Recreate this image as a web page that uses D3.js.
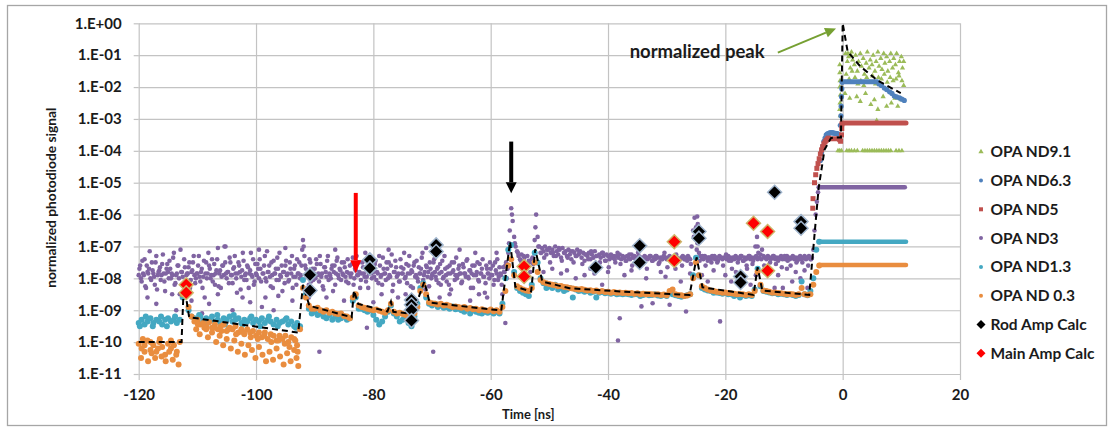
<!DOCTYPE html>
<html>
<head>
<meta charset="utf-8">
<script src="https://cdn.jsdelivr.net/npm/d3@7"></script>
<style>
  body { margin: 0; background: #fff; }
  svg { display: block; }
  text { font-family: Lato, "Open Sans", sans-serif; font-weight: 700; fill: #1b1b1b; }
</style>
</head>
<body>
<svg id="chart" width="1109" height="427"></svg>
<script>
// ---------------------------------------------------------------------------
// Axis ticks
const xTicks = [-120, -100, -80, -60, -40, -20, 0, 20];
const yTickExp = [0, -1, -2, -3, -4, -5, -6, -7, -8, -9, -10, -11];
const yTickLabels = ["1.E+00","1.E-01","1.E-02","1.E-03","1.E-04","1.E-05","1.E-06","1.E-07","1.E-08","1.E-09","1.E-10","1.E-11"];

// Series names / colours (legend order)
const seriesNames = ["OPA ND9.1","OPA ND6.3","OPA ND5","OPA ND3","OPA ND1.3","OPA ND 0.3","Rod Amp Calc","Main Amp Calc"];
const seriesColors = ["#9BBB59","#4F81BD","#C0504D","#8064A2","#44A8C2","#E98D3F","#000000","#FF0000"];

// All signal values are log10(normalized signal).

// OPA ND 0.3 trace, sampled every 0.5 ns from -120 ns (one row = 5 ns)
const nd03Start = -120, nd03Step = 0.5;
const nd03Log = [
  -10.05,-10.2,-10.1,-9.95,-10.25,-10.1,-10.3,-10.0,-10.15,-10.4,
  -10.05,-10.2,-10.1,-10.3,-10.0,-8.5,-8.3,-8.9,-9.2,-9.35,
  -9.3,-9.45,-9.4,-9.5,-9.38,-9.55,-9.45,-9.6,-9.5,-9.45,
  -9.65,-9.55,-9.6,-9.5,-9.7,-9.6,-9.75,-9.6,-9.7,-9.65,
  -9.8,-9.7,-9.85,-9.7,-9.9,-9.75,-9.8,-9.95,-9.8,-9.9,
  -9.8,-10.0,-9.85,-9.9,-10.1,-9.6,-8.3,-8.6,-8.85,-8.95,
  -8.95,-8.92,-9.0,-9.05,-9.0,-9.08,-9.05,-9.1,-9.12,-9.1,
  -9.18,-9.2,-9.25,-8.6,-8.5,-8.85,-8.9,-8.92,-8.95,-8.98,
  -9.0,-8.98,-9.02,-9.05,-9.08,-9.0,-8.8,-9.05,-9.1,-9.08,
  -9.12,-9.15,-9.2,-9.15,-9.1,-8.9,-8.4,-8.2,-8.5,-8.75,
  -8.78,-8.8,-8.82,-8.8,-8.85,-8.83,-8.86,-8.9,-8.88,-8.9,
  -8.92,-8.9,-8.95,-8.93,-8.97,-8.95,-9.0,-8.97,-9.0,-9.02,
  -8.98,-9.03,-9.0,-9.05,-8.9,-8.4,-7.6,-7.4,-7.9,-8.25,
  -8.3,-8.35,-8.38,-8.4,-8.3,-7.5,-7.8,-8.05,-8.12,-8.15,
  -8.18,-8.2,-8.22,-8.25,-8.24,-8.27,-8.28,-8.3,-8.32,-8.33,
  -8.35,-8.33,-8.36,-8.38,-8.37,-8.4,-8.38,-8.42,-8.4,-8.43,
  -8.42,-8.45,-8.43,-8.45,-8.44,-8.46,-8.45,-8.47,-8.46,-8.48,
  -8.47,-8.5,-8.48,-8.5,-8.49,-8.5,-8.51,-8.5,-8.52,-8.51,
  -8.53,-8.4,-8.35,-8.5,-8.52,-8.53,-8.55,-8.54,-8.5,-8.0,
  -7.5,-7.9,-8.25,-8.3,-8.35,-8.38,-8.4,-8.42,-8.43,-8.45,
  -8.44,-8.46,-8.47,-8.48,-8.5,-8.49,-8.5,-8.52,-8.5,-8.52,
  -8.4,-7.8,-8.2,-8.38,-8.4,-8.42,-8.45,-8.44,-8.46,-8.47,
  -8.48,-8.5,-8.49,-8.5,-8.52,-8.5,-8.3,-8.5,-8.52,-8.5,
  -8.2,-7.8,-7.6
];
// extra ND 0.3 samples in the noisy early window: [time ns, log10]
const nd03Extra = [
  [-119.6,-10.5],[-119,-10.3],[-118.4,-10.6],[-117.8,-10.35],[-117.2,-10.5],[-116.7,-10.2],[-116.1,-10.45],
  [-115.4,-10.6],[-114.8,-10.3],[-114.2,-10.55],[-113.6,-10.4],[-113.2,-10.7],[-119.3,-9.9],[-118,-10.0],
  [-116.4,-9.9],[-114.5,-9.95],
  [-110.2,-9.6],[-109.6,-9.75],[-108.8,-9.55],[-108.2,-9.85],[-107.5,-9.7],[-106.8,-10.0],[-106.2,-9.8],
  [-105.6,-10.1],[-105,-9.9],[-104.3,-10.2],[-103.7,-9.95],[-103.1,-10.3],[-102.5,-10.05],[-101.9,-10.4],
  [-101.3,-10.1],[-100.7,-10.25],[-100.1,-10.5],[-99.5,-10.15],[-98.9,-10.4],[-98.3,-10.6],[-97.7,-10.3],
  [-97.1,-10.55],[-96.5,-10.2],[-95.9,-10.45],[-95.3,-10.7],[-94.7,-10.35],[-94.1,-10.6],[-93.5,-10.25],
  [-93.1,-10.5],[-92.8,-10.75],
  [-109.9,-9.45],[-108.5,-9.6],[-107.1,-9.55],[-105.9,-9.65],[-104.7,-9.6],[-103.4,-9.75],[-102.1,-9.7],
  [-100.9,-9.85],[-99.7,-9.9],[-98.6,-9.8],[-97.4,-10.0],[-96.2,-9.95],[-95.1,-10.05],[-94.3,-10.15],
  [-93.3,-9.95],[-92.9,-10.3]
];

// OPA ND1.3 trace, sampled every 0.5 ns from -120 ns
const nd13Start = -120, nd13Step = 0.5;
const nd13Log = [
  -9.4,-9.3,-9.45,-9.35,-9.25,-9.4,-9.3,-9.35,-9.45,-9.3,
  -9.25,-9.35,-9.3,-9.4,-9.3,-8.6,-8.5,-9.0,-9.2,-9.25,
  -9.3,-9.2,-9.35,-9.25,-9.3,-9.2,-9.35,-9.3,-9.4,-9.25,
  -9.3,-9.2,-9.35,-9.3,-9.25,-9.4,-9.3,-9.35,-9.25,-9.4,
  -9.3,-9.35,-9.25,-9.4,-9.3,-9.35,-9.45,-9.3,-9.4,-9.35,
  -9.3,-9.45,-9.35,-9.5,-9.4,-9.5,-8.05,-8.5,-8.95,-9.1,
  -9.05,-9.15,-9.1,-9.2,-9.25,-9.15,-9.3,-9.2,-9.3,-9.25,
  -9.2,-9.3,-9.25,-8.7,-8.6,-8.95,-8.95,-9.0,-9.05,-9.0,
  -9.15,-9.3,-9.45,-9.35,-9.2,-9.05,-8.85,-9.1,-9.2,-9.35,
  -9.3,-9.25,-9.4,-9.5,-9.2,-8.8,-8.3,-8.15,-8.6,-8.8,
  -8.85,-8.8,-8.9,-8.85,-8.92,-8.9,-8.95,-8.88,-8.97,-8.95,
  -9.0,-9.05,-8.98,-9.1,-9.0,-9.05,-9.08,-9.1,-9.05,-9.08,
  -9.05,-9.1,-9.05,-9.1,-8.8,-8.0,-7.1,-6.95,-7.8,-8.3,
  -8.4,-8.45,-8.5,-8.55,-8.2,-7.2,-7.5,-8.0,-8.15,-8.3,
  -8.25,-8.3,-8.2,-8.35,-8.3,-8.4,-8.35,-8.3,-8.6,-8.35,
  -8.4,-8.38,-8.42,-8.4,-8.45,-8.42,-8.6,-8.45,-8.43,-8.47,
  -8.45,-8.48,-8.46,-8.5,-8.48,-8.5,-8.48,-8.5,-8.52,-8.5,
  -8.5,-8.55,-8.52,-8.5,-8.53,-8.52,-8.5,-8.54,-8.55,-8.52,
  -8.55,-8.45,-8.5,-8.53,-8.55,-8.58,-8.55,-8.53,-8.5,-7.9,
  -7.35,-7.9,-8.3,-8.35,-8.38,-8.4,-8.45,-8.44,-8.46,-8.48,
  -8.46,-8.5,-8.5,-8.55,-8.52,-8.6,-8.52,-8.55,-8.53,-8.55,
  -8.35,-7.7,-8.25,-8.4,-8.42,-8.44,-8.47,-8.46,-8.5,-8.48,
  -8.5,-8.52,-8.5,-8.52,-8.55,-8.52,-8.1,-8.5,-8.53,-8.4,
  -8.0,-7.1,-6.85
];
const nd13Extra = [
  [-119.8,-9.5],[-118.8,-9.2],[-117.6,-9.5],[-116.2,-9.2],[-115.2,-9.5],[-113.8,-9.2],
  [-109.7,-9.15],[-108.3,-9.4],[-106.6,-9.15],[-105.3,-9.45],[-103.8,-9.15],[-102.3,-9.45],
  [-100.8,-9.2],[-99.3,-9.5],[-97.8,-9.2],[-96.3,-9.5],[-94.8,-9.25],[-93.2,-9.55]
];

// OPA ND3 trace, sampled every 0.25 ns from -120 ns (one row = 5 ns)
const nd3Start = -120, nd3Step = 0.25;
const nd3Log = [
  -7.9,-7.6,-8.1,-7.85,-7.4,-8.3,-7.8,-7.7,-8.0,-7.5,-7.85,-8.2,-7.3,-7.9,-7.75,-8.05,-7.55,-7.85,-8.4,-7.7,
  -7.8,-7.45,-8.0,-7.9,-7.2,-8.15,-7.85,-7.6,-8.5,-7.8,-7.95,-7.4,-8.1,-7.85,-7.65,-8.3,-7.8,-7.5,-7.9,-8.0,
  -7.85,-7.3,-8.1,-7.7,-7.95,-8.6,-7.5,-7.85,-7.6,-8.0,-7.4,-7.9,-8.2,-7.75,-7.05,-7.85,-8.3,-7.6,-7.9,-7.5,
  -8.0,-7.8,-7.35,-7.9,-8.15,-7.65,-7.85,-8.45,-7.5,-7.8,-7.95,-7.2,-8.05,-7.85,-7.6,-8.3,-7.75,-7.9,-7.4,-8.1,
  -7.85,-7.55,-8.0,-7.7,-8.9,-7.85,-7.3,-8.1,-7.8,-7.6,-8.25,-7.9,-7.45,-7.85,-8.05,-7.7,-7.2,-7.95,-8.4,-7.8,
  -7.6,-7.9,-8.1,-7.5,-7.85,-8.3,-7.7,-7.95,-7.4,-7.85,-8.0,-7.6,-6.8,-7.3,-7.7,-7.9,-8.2,-7.5,-7.85,-8.05,
  -7.7,-7.4,-7.9,-8.1,-7.55,-7.85,-8.35,-7.65,-7.95,-7.3,-7.85,-8.0,-7.6,-7.8,-8.2,-7.45,-7.9,-7.7,-8.05,-7.85,
  -7.5,-7.95,-7.8,-8.15,-7.6,-7.85,-7.35,-8.0,-7.75,-7.9,-7.5,-8.3,-7.85,-7.65,-7.95,-8.1,-7.4,-7.85,-7.7,-8.0,
  -7.8,-7.55,-8.05,-7.85,-7.3,-7.95,-8.2,-7.7,-7.85,-7.5,-8.0,-7.9,-7.6,-8.4,-7.8,-7.45,-7.95,-7.85,-8.1,-7.65,
  -7.85,-7.2,-7.95,-8.15,-7.6,-7.85,-7.75,-8.3,-7.5,-7.9,-8.0,-7.65,-7.85,-7.35,-8.05,-7.8,-7.6,-7.95,-8.25,-7.7,
  -7.9,-7.5,-7.8,-8.05,-7.65,-7.85,-8.2,-7.45,-7.95,-7.7,-8.1,-7.85,-7.6,-8.35,-7.8,-7.5,-7.9,-8.0,-7.7,-7.85,
  -8.15,-7.55,-7.85,-7.95,-7.4,-8.0,-7.75,-7.85,-8.3,-7.6,-7.9,-7.5,-8.1,-7.85,-7.7,-7.95,-8.45,-7.6,-7.85,-8.0,
  -7.7,-7.9,-8.2,-7.5,-7.85,-8.05,-7.65,-7.9,-8.5,-7.8,-7.6,-8.0,-7.2,-6.5,-5.8,-6.2,-6.7,-7.0,-7.15,-7.3,
  -7.4,-7.25,-7.5,-7.35,-7.6,-7.3,-7.45,-7.8,-7.4,-7.55,-6.8,-6.0,-6.7,-7.0,-7.2,-7.05,-7.15,-7.0,-7.25,-7.1,
  -7.05,-7.2,-7.1,-7.3,-7.0,-7.15,-7.25,-7.1,-7.35,-7.05,-7.2,-7.15,-7.3,-7.1,-7.25,-7.4,-7.15,-7.2,-7.3,-7.1,
  -7.25,-7.15,-7.35,-7.2,-7.45,-7.25,-7.3,-7.2,-7.4,-7.25,-7.35,-7.15,-7.3,-7.6,-7.25,-7.35,-7.2,-7.3,-7.45,-7.25,
  -7.3,-7.4,-7.25,-7.35,-7.3,-7.5,-7.3,-7.35,-7.25,-7.4,-7.3,-7.35,-7.45,-7.3,-7.35,-7.4,-7.25,-7.35,-7.3,-7.4,
  -7.35,-7.3,-7.4,-7.35,-7.45,-7.3,-7.35,-7.4,-7.35,-7.3,-7.45,-7.35,-7.4,-7.3,-7.35,-7.5,-7.35,-7.4,-7.3,-7.35,
  -7.4,-7.35,-7.3,-7.45,-7.35,-7.4,-7.3,-7.35,-7.45,-7.4,-7.35,-7.3,-7.4,-7.35,-7.45,-7.35,-7.4,-7.0,-6.5,-6.1,
  -6.4,-6.9,-7.2,-7.3,-7.35,-7.4,-7.3,-7.35,-7.45,-7.35,-7.4,-7.3,-7.35,-7.4,-7.35,-7.45,-7.3,-7.35,-7.4,-7.35,
  -7.35,-7.4,-7.3,-7.35,-7.45,-7.35,-7.4,-7.3,-7.35,-7.4,-7.35,-7.3,-7.45,-7.35,-7.4,-7.35,-7.3,-7.4,-7.35,-7.45,
  -7.35,-7.3,-7.4,-7.35,-7.25,-7.1,-7.3,-7.35,-7.4,-7.3,-7.35,-7.4,-7.35,-7.3,-7.4,-7.35,-7.45,-7.35,-7.3,-7.4,
  -7.35,-7.4,-7.3,-7.35,-7.4,-7.35,-7.3,-7.4,-7.35,-7.45,-7.35,-7.3,-7.4,-7.35,-7.3,-7.4,-7.35,-7.3,-7.4,-7.35
];
// second ND3 channel, interleaved: every 0.25 ns from -119.875 ns
const nd3bStart = -119.875, nd3bStep = 0.25;
const nd3bLog = [
  -7.7,-8.0,-7.45,-7.9,-8.25,-7.6,-7.85,-7.15,-8.05,-7.75,-7.95,-7.5,-8.35,-7.8,-7.65,-7.9,-7.25,-8.1,-7.85,-7.55,
  -8.0,-7.7,-7.85,-7.35,-8.2,-7.9,-7.6,-8.0,-7.1,-7.8,-8.45,-7.65,-7.9,-7.85,-7.5,-8.05,-7.75,-7.3,-8.15,-7.85,
  -7.6,-7.95,-7.8,-8.3,-7.45,-7.85,-8.0,-7.2,-7.7,-7.9,-8.1,-7.55,-7.85,-7.4,-8.25,-7.75,-7.95,-7.6,-7.0,-7.85,
  -7.8,-8.15,-7.5,-7.9,-7.7,-7.3,-8.0,-7.85,-7.6,-8.35,-7.75,-7.45,-7.9,-8.05,-7.65,-7.85,-7.2,-7.95,-8.2,-7.55,
  -7.9,-7.7,-7.4,-8.1,-7.85,-7.6,-8.0,-7.15,-7.8,-7.95,-7.5,-8.3,-7.85,-7.7,-7.35,-8.05,-7.9,-7.6,-7.8,-8.15,
  -7.45,-7.85,-8.05,-7.7,-7.3,-7.95,-7.6,-8.2,-7.85,-7.5,-7.9,-7.1,-7.0,-7.6,-7.95,-7.8,-7.4,-8.1,-7.7,-7.85,
  -8.0,-7.55,-7.85,-7.3,-7.95,-8.25,-7.65,-7.8,-7.45,-8.05,-7.9,-7.7,-8.4,-7.6,-7.85,-7.35,-8.0,-7.75,-7.5,-7.9,
  -7.65,-8.1,-7.4,-7.85,-7.95,-7.55,-8.2,-7.7,-7.3,-7.9,-7.8,-8.05,-7.5,-7.85,-7.2,-7.95,-8.3,-7.6,-7.85,-7.75,
  -7.95,-7.45,-7.8,-8.15,-7.6,-7.9,-7.35,-7.85,-8.05,-7.7,-7.5,-7.95,-7.25,-8.2,-7.8,-7.65,-7.9,-8.1,-7.4,-7.85,
  -7.7,-8.0,-7.55,-7.85,-7.3,-8.25,-7.8,-7.6,-7.95,-7.45,-8.1,-7.85,-7.7,-7.2,-7.9,-8.35,-7.65,-7.8,-7.5,-8.0,
  -7.85,-7.4,-7.95,-7.7,-8.15,-7.55,-7.8,-8.0,-7.3,-7.9,-7.65,-8.2,-7.85,-7.5,-7.75,-8.05,-7.35,-7.9,-7.6,-7.85,
  -8.1,-7.65,-7.85,-7.45,-7.95,-7.75,-8.3,-7.6,-7.9,-7.2,-7.8,-8.05,-7.55,-7.85,-7.4,-7.95,-8.15,-7.7,-7.85,-7.5,
  -7.9,-7.6,-8.05,-7.75,-7.4,-7.95,-7.85,-8.2,-7.65,-7.8,-7.5,-7.7
];
// third ND3 channel after the first large pulse: every 0.5 ns from -56.875 ns
const nd3cStart = -56.875, nd3cStep = 0.5;
const nd3cLog = [
  -6.9,-6.0,-6.9,-7.2,-7.45,-7.3,-7.6,-7.5,-7.35,-6.4,
  -7.0,-7.2,-7.35,-7.1,-7.5,-7.2,-7.3,-7.05,-7.45,-7.2,
  -7.35,-7.15,-7.5,-7.3,-7.2,-7.55,-7.25,-7.4,-7.15,-7.6,
  -7.3,-7.5,-7.2,-7.45,-7.65,-7.3,-7.4,-7.2,-7.55,-7.35,
  -7.45,-7.25,-7.6,-7.35,-7.2,-7.5,-7.4,-7.7,-7.3,-7.45,
  -7.3,-7.55,-7.4,-7.2,-7.65,-7.35,-7.5,-7.25,-7.45,-7.6,
  -7.4,-7.3,-7.55,-6.7,-7.1,-7.45,-7.3,-7.6,-7.35,-7.5,
  -7.3,-7.5,-7.35,-7.6,-7.25,-7.45,-7.7,-7.35,-7.5,-7.3,
  -7.45,-7.6,-7.3,-7.55,-7.0,-7.2,-7.4,-7.6,-7.35,-7.5,
  -7.3,-7.55,-7.4,-7.65,-7.3,-7.45,-7.6,-7.35,-7.5,-7.4,
  -7.5,-7.35,-7.6,-7.4
];
// scattered ND3 samples (outliers, spikes, rising edge): [time ns, log10]
const nd3Extra = [
  [-118.5,-8.6],[-117,-8.8],[-114.3,-8.5],[-113.6,-9.0],[-111,-8.7],[-109.2,-9.1],[-108,-8.8],[-106.5,-8.5],
  [-105.2,-7.0],[-104,-9.0],[-102.3,-8.6],[-101,-8.75],[-99.5,-7.1],[-98.4,-8.6],[-97,-9.0],[-96.2,-8.55],
  [-95,-7.05],[-93.8,-8.7],[-91,-8.6],[-89.2,-10.3],[-88,-8.6],[-86.5,-7.1],[-85,-8.7],[-83.2,-8.5],
  [-81.1,-9.55],[-80,-8.75],[-78.6,-8.5],[-77.4,-7.1],[-75.8,-8.6],[-74.5,-8.5],[-72.8,-8.8],[-71,-7.05],
  [-69.8,-10.3],[-68.7,-8.6],[-67,-8.5],[-65.3,-7.1],[-63.5,-8.7],[-62,-8.5],[-60.6,-8.6],[-59,-7.2],
  [-58,-8.8],[-57.5,-9.4],
  [-54.2,-7.9],[-51,-7.8],[-49.5,-7.7],[-48,-7.85],[-47,-7.75],[-45.5,-8.0],[-44,-7.9],[-43,-7.7],
  [-42.3,-7.85],[-41,-8.2],[-40,-7.8],[-38.3,-9.95],[-38,-9.25],[-37.2,-7.9],[-36,-7.75],[-34.3,-8.88],
  [-33.5,-8.0],[-32.4,-8.78],[-31,-7.8],[-30.2,-7.95],[-29.5,-8.83],[-28.5,-7.7],[-27.6,-8.1],[-26.7,-9.04],
  [-26,-7.85],[-24.8,-6.06],[-24.7,-6.3],[-24.3,-6.8],[-24,-7.9],[-23,-8.1],[-22,-7.75],[-20.9,-9.35],
  [-20,-7.9],[-19,-8.1],[-18.2,-7.8],[-17,-8.0],[-16.3,-7.7],[-15.7,-8.2],[-14.8,-7.9],[-14.6,-6.7],
  [-14.5,-7.0],[-12.5,-7.85],[-11.6,-8.3],[-11,-7.9],[-10.2,-8.3],[-9.5,-7.7],[-8.6,-8.1],[-8,-7.8],
  [-7.2,-8.0],[-6.5,-7.75],[-6,-8.3],
  [-5,-7.1],[-4.8,-6.5],[-4.6,-6.0],[-4.4,-5.6],[-4.2,-5.3]
];

// OPA ND5 rising edge: [time ns, log10]
const nd5Points = [
  [-5.1,-5.8],[-5.05,-5.5],[-4.8,-5.0],[-4.6,-4.75],[-4.4,-4.55],[-4.2,-4.4],[-4.0,-4.25],[-3.8,-4.1],
  [-3.6,-3.97],[-3.4,-3.87],[-3.2,-3.78],[-3.0,-3.72],[-2.8,-3.67],[-2.6,-3.63],[-2.4,-3.6],
  [-0.5,-3.65],[-0.35,-3.7],[-0.2,-3.5],[-0.15,-3.3],[-0.1,-3.15]
];
// OPA ND6.3 rising edge and tail: [time ns, log10]
const nd63Points = [
  [-3.8,-4.3],[-3.6,-4.05],[-3.4,-3.85],[-3.2,-3.7],[-3.0,-3.6],[-2.8,-3.5],[-2.6,-3.47],[-2.4,-3.45],
  [-2.2,-3.44],[-2.0,-3.43],[-1.8,-3.43],[-1.6,-3.44],[-1.4,-3.45],[-1.2,-3.45],[-1.0,-3.46],[-0.8,-3.47],
  [-0.6,-3.5],[-0.4,-3.2],[-0.3,-2.9],[-0.25,-2.6],[-0.2,-2.3],[-0.15,-2.05],[-0.1,-1.85],
  [6.2,-1.9],[6.6,-1.95],[7.1,-2.03],[7.5,-2.08],[8.0,-2.15],[8.4,-2.2],[8.8,-2.28],[9.2,-2.31],
  [9.7,-2.34],[10.1,-2.38],[10.5,-2.42]
];
// OPA ND9.1 samples: [time ns, log10]
const nd91Points = [
  [-0.5,-1.3],[-0.5,-1.55],[-0.45,-1.8],[-0.5,-2.0],[-0.4,-2.25],[-0.45,-2.5],[-0.5,-2.7],[-0.4,-2.9],
  [0.5,-0.95],[0.8,-1.2],[1.0,-1.05],[1.3,-1.4],[1.5,-0.9],[1.7,-1.15],[2.0,-1.3],[2.2,-1.0],[2.5,-1.5],
  [2.7,-1.2],[3.0,-0.95],[3.2,-1.35],[3.5,-1.1],[3.7,-1.6],[4.0,-1.25],[4.2,-0.9],[4.5,-1.4],[4.7,-1.15],
  [5.0,-1.3],[5.2,-1.0],[5.5,-1.5],[5.7,-1.2],[6.0,-0.9],[6.2,-1.35],[6.5,-1.1],[6.7,-1.45],[7.0,-0.95],
  [7.2,-1.25],[7.5,-1.05],[7.7,-1.5],[8.0,-1.2],[8.2,-0.95],[8.5,-1.4],[8.7,-1.1],[9.0,-1.3],[9.2,-0.95],
  [9.5,-1.55],[9.7,-1.2],[10.0,-1.05],[10.2,-1.4],[10.4,-1.2],[0.9,-0.95],[1.4,-1.0],
  [0.6,-1.6],[1.1,-1.75],[1.6,-1.5],[2.1,-1.7],[2.6,-1.9],[3.1,-1.8],[3.6,-1.95],[4.1,-1.7],[4.6,-1.85],
  [5.1,-1.65],[5.6,-1.9],[6.1,-1.7],[6.6,-1.75],[7.1,-1.6],[7.6,-1.85],[8.1,-1.7],[8.6,-1.8],[9.1,-1.75],
  [9.6,-1.65],[10.1,-1.8],[10.4,-1.95],
  [0.4,-2.2],[1.2,-2.35],[2.4,-2.3],[3.0,-2.45],[3.9,-2.2],[4.8,-2.55],[5.4,-2.4],[6.0,-2.7],[6.9,-2.3],
  [7.5,-2.6],[8.3,-2.5],[8.9,-2.35],[9.4,-2.6],[10.0,-2.4],[5.8,-3.05],
  [-0.8,-4.0],[-0.5,-4.0],[-0.2,-4.0],[0.7,-4.0],[1.1,-4.0],[1.5,-4.0],[2.0,-4.0],[2.5,-4.0],[3.4,-4.0],
  [3.8,-4.0],[4.2,-4.0],[4.6,-4.0],[5.0,-4.0],[5.4,-4.0],[5.8,-4.0],[6.2,-4.0],[6.6,-4.0],[7.0,-4.0],
  [7.4,-4.0],[7.8,-4.0],[8.2,-4.0],[9.1,-4.0],[9.6,-4.0],[10.1,-4.0]
];

// Flat plateaus after the main pulse: series index, start/end time, level
const plateauSeries = [2, 2, 1, 3, 4, 5];
const plateauStart  = [-2.4, -0.1, -0.1, -4.1, -4.1, -4.0];
const plateauEnd    = [-0.5, 10.8, 5.9, 10.6, 10.8, 10.8];
const plateauLog    = [-3.62, -3.13, -1.83, -5.14, -6.85, -7.58];

// Calculated pulse train (dashed): time ns, log10
const calcT = [-120,-112.7,-112.3,-111.4,-92.8,-92.0,-90.9,-83.7,-83.3,-82.6,-77.6,-77.0,-76.6,-73.3,-71.3,-70.4,
  -58.2,-56.7,-55.8,-53.1,-52.4,-51.2,-46.6,-38,-26.1,-24.9,-23.9,-15.2,-14.5,-13.7,-5.7,-4.1,-3.1,-2.0,
  -1.4,-0.3,0,0.85,3,6,9.9];
const calcLog = [-10,-10,-8.15,-9.22,-9.70,-8.2,-8.86,-9.22,-8.38,-8.80,-9.04,-8.73,-9.05,-9.11,-8.10,-8.76,
  -9.01,-6.85,-8.26,-8.41,-7.08,-8.10,-8.31,-8.41,-8.52,-7.34,-8.28,-8.52,-7.65,-8.38,-8.52,-5.17,-3.97,-3.6,
  -3.58,-3.58,0,-0.89,-1.35,-1.8,-2.19];

// Rod amplifier calculation points
const rodT   = [-90.8,-90.8,-80.6,-80.6,-73.5,-73.5,-73.5,-73.5,-69.3,-69.3,-42.1,-34.6,-34.6,-24.5,-24.5,-17.4,-17.4,-11.6,-7.1,-7.1];
const rodLog = [-7.89,-8.38,-7.42,-7.68,-8.68,-8.83,-8.99,-9.32,-6.95,-7.16,-7.66,-6.98,-7.5,-6.53,-6.74,-7.94,-8.13,-5.3,-6.22,-6.43];
// Main amplifier calculation points
const mainT   = [-111.9,-111.9,-54.3,-54.3,-28.7,-28.7,-15.2,-12.8,-12.8];
const mainLog = [-8.2,-8.45,-7.63,-7.94,-6.85,-7.44,-6.27,-6.53,-7.76];

// Annotation arrows (data coordinates)
const arrowColor = ["#FF0000", "#000000", "#76A032"];
const arrowT0    = [-83.0, -56.5, -11.05];
const arrowLog0  = [-5.32, -3.71, -0.92];
const arrowT1    = [-83.0, -56.5, -1.13];
const arrowLog1  = [-7.84, -5.33, -0.16];
const arrowWidth = [4, 4, 2];
const arrowHeadLen = [13, 11, 11];
const arrowHeadHalf = [5.5, 5.5, 5];
const peakLabel = "normalized peak";
const peakLabelT = -13.3, peakLabelLog = -1.08;

// ---------------------------------------------------------------------------
const svg = d3.select("#chart");
const W = 1109, H = 427;

// outer chart frame
svg.append("rect").attr("x", 7.5).attr("y", 5.5).attr("width", W - 10).attr("height", H - 7)
  .attr("fill", "#fff").attr("stroke", "#A6A6A6").attr("stroke-width", 1.3);

const x = d3.scaleLinear().domain([-120, 20]).range([138.7, 960]);
const y = d3.scaleLog().domain([1e-11, 1]).range([374, 23.3]);
const Y = lg => y(Math.pow(10, lg));
const plotW = x(20) - x(-120), plotH = y(1e-11) - y(1);

// gridlines
const gridColor = "#C3C3C3";
const gx = svg.append("g").attr("transform", `translate(0,${y(1e-11)})`)
  .call(d3.axisBottom(x).tickValues(xTicks).tickSizeInner(-plotH).tickSizeOuter(0).tickFormat(""));
const gy = svg.append("g").attr("transform", `translate(${x(-120)},0)`)
  .call(d3.axisLeft(y).tickValues(yTickExp.map(e => Math.pow(10, e))).tickSizeInner(-plotW).tickSizeOuter(0).tickFormat(""));
[gx, gy].forEach(g => {
  g.select(".domain").remove();
  g.selectAll("line").attr("stroke", gridColor).attr("stroke-width", 1.2);
});

// axes with short outer ticks and labels
const ax = svg.append("g").attr("transform", `translate(0,${y(1e-11)})`)
  .call(d3.axisBottom(x).tickValues(xTicks).tickSize(6).tickPadding(9).tickFormat(d => d));
const ay = svg.append("g").attr("transform", `translate(${x(-120)},0)`)
  .call(d3.axisLeft(y).tickValues(yTickExp.map(e => Math.pow(10, e))).tickSize(5).tickPadding(12)
    .tickFormat((d, i) => yTickLabels[i]));
[ax, ay].forEach(g => {
  g.select(".domain").remove();
  g.selectAll("line").attr("stroke", gridColor).attr("stroke-width", 1.2);
  g.selectAll("text").attr("font-family", "Lato, sans-serif").attr("font-weight", 700)
    .attr("font-size", 15).attr("fill", "#1b1b1b");
});

// axis titles
svg.append("text").attr("x", (x(-120) + x(20)) / 2 - 21).attr("y", 419)
  .attr("text-anchor", "middle").attr("font-size", 13).text("Time [ns]");
svg.append("text").attr("transform", `translate(56,${(y(1) + y(1e-11)) / 2 - 1}) rotate(-90)`)
  .attr("text-anchor", "middle").attr("font-size", 13.8).text("normalized photodiode signal");

// ---------------------------------------------------------------------------
const grid = (start, step, logs) => logs.map((v, i) => ({ t: start + i * step, v }));
const pairs = arr => arr.map(([t, v]) => ({ t, v }));
const plot = svg.append("g");

function dots(data, color, r) {
  plot.append("g").selectAll("circle").data(data).join("circle")
    .attr("cx", d => x(d.t)).attr("cy", d => Y(d.v)).attr("r", r).attr("fill", color);
}
function plateaus(si, color, w) {
  plateauSeries.forEach((s, k) => {
    if (s !== si) return;
    plot.append("path")
      .attr("d", d3.line().x(d => x(d.t)).y(d => Y(d.v))([{ t: plateauStart[k], v: plateauLog[k] }, { t: plateauEnd[k], v: plateauLog[k] }]))
      .attr("stroke", color).attr("stroke-width", w).attr("stroke-linecap", "round").attr("fill", "none");
  });
}

// OPA ND9.1 (triangles)
const tri = d3.symbol().type(d3.symbolTriangle).size(12);
plot.append("g").selectAll("path").data(pairs(nd91Points)).join("path")
  .attr("transform", d => `translate(${x(d.t)},${Y(d.v)})`).attr("d", tri).attr("fill", seriesColors[0]);
// OPA ND6.3
plateaus(1, seriesColors[1], 5);
dots(pairs(nd63Points), seriesColors[1], 2.6);
// OPA ND5 (squares)
plateaus(2, seriesColors[2], 5);
plot.append("g").selectAll("rect").data(pairs(nd5Points)).join("rect")
  .attr("x", d => x(d.t) - 2.5).attr("y", d => Y(d.v) - 2.5).attr("width", 5).attr("height", 5)
  .attr("fill", seriesColors[2]);
// OPA ND3
plateaus(3, seriesColors[3], 4.5);
dots(grid(nd3Start, nd3Step, nd3Log)
  .concat(grid(nd3bStart, nd3bStep, nd3bLog))
  .concat(grid(nd3cStart, nd3cStep, nd3cLog))
  .concat(pairs(nd3Extra)), seriesColors[3], 2.3);
// OPA ND1.3
plateaus(4, seriesColors[4], 4.5);
dots(grid(nd13Start, nd13Step, nd13Log).concat(pairs(nd13Extra)), seriesColors[4], 3);
// OPA ND 0.3
plateaus(5, seriesColors[5], 4.5);
dots(grid(nd03Start, nd03Step, nd03Log).concat(pairs(nd03Extra)), seriesColors[5], 3);

// calculated pulse train
plot.append("path")
  .attr("d", d3.line().x(d => x(d.t)).y(d => Y(d.v))(calcT.map((t, i) => ({ t, v: calcLog[i] }))))
  .attr("fill", "none").attr("stroke", "#000").attr("stroke-width", 2).attr("stroke-dasharray", "6,4");

// diamonds
const diamond = s => `M0,${-s}L${s},0L0,${s}L${-s},0Z`;
plot.append("g").selectAll("path").data(rodT.map((t, i) => ({ t, v: rodLog[i] }))).join("path")
  .attr("transform", d => `translate(${x(d.t)},${Y(d.v)})`).attr("d", diamond(7))
  .attr("fill", "#000").attr("stroke", "#9FB4CC").attr("stroke-width", 1.5);
plot.append("g").selectAll("path").data(mainT.map((t, i) => ({ t, v: mainLog[i] }))).join("path")
  .attr("transform", d => `translate(${x(d.t)},${Y(d.v)})`).attr("d", diamond(7))
  .attr("fill", "#FF0000").attr("stroke", "#CDB56A").attr("stroke-width", 1.5);

// annotation arrows
arrowColor.forEach((c, k) => {
  const x0 = x(arrowT0[k]), y0 = Y(arrowLog0[k]), x1 = x(arrowT1[k]), y1 = Y(arrowLog1[k]);
  const len = Math.hypot(x1 - x0, y1 - y0), ux = (x1 - x0) / len, uy = (y1 - y0) / len;
  const bx = x1 - ux * arrowHeadLen[k], by = y1 - uy * arrowHeadLen[k];
  svg.append("line").attr("x1", x0).attr("y1", y0).attr("x2", bx).attr("y2", by)
    .attr("stroke", c).attr("stroke-width", arrowWidth[k]);
  const h = arrowHeadHalf[k];
  svg.append("path")
    .attr("d", `M${x1},${y1}L${bx - uy * h},${by + ux * h}L${bx + uy * h},${by - ux * h}Z`)
    .attr("fill", c);
});
svg.append("text").attr("x", x(peakLabelT)).attr("y", Y(peakLabelLog)).attr("text-anchor", "end")
  .attr("font-size", 18.5).text(peakLabel);

// legend
const leg = svg.append("g");
seriesNames.forEach((name, i) => {
  const cy = 151.7 + i * 28.8, cx = 981;
  const g = leg.append("g").attr("transform", `translate(${cx},${cy})`);
  if (i === 0) g.append("path").attr("d", d3.symbol().type(d3.symbolTriangle).size(12)).attr("fill", seriesColors[i]);
  else if (i === 2) g.append("rect").attr("x", -2).attr("y", -2).attr("width", 4).attr("height", 4).attr("fill", seriesColors[i]);
  else if (i >= 6) g.append("path").attr("d", diamond(4.5)).attr("fill", seriesColors[i]);
  else g.append("circle").attr("r", 2).attr("fill", seriesColors[i]);
  leg.append("text").attr("x", cx + 9.5).attr("y", cy + 5.5).attr("font-size", 15.5).text(name);
});
</script>
</body>
</html>
